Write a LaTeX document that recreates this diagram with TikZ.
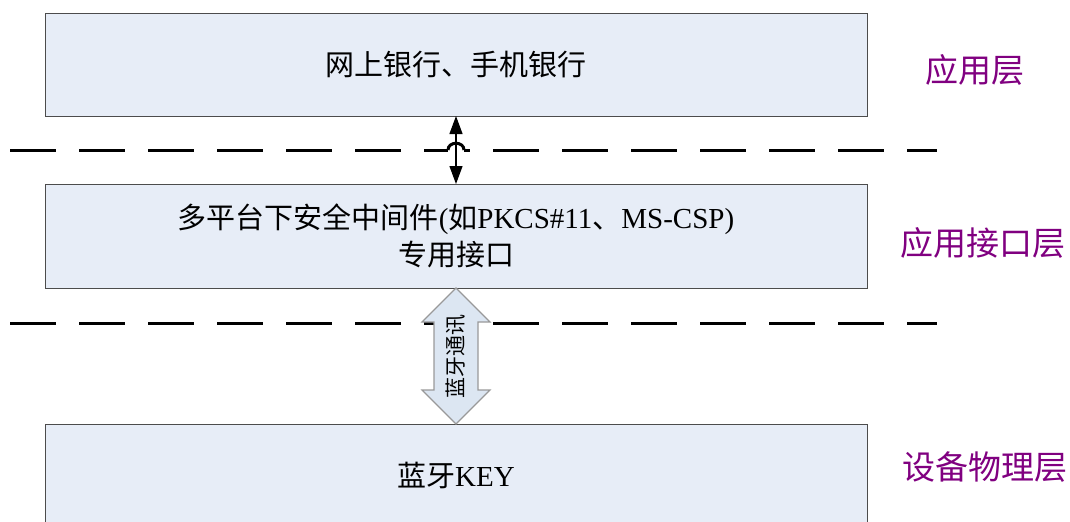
\documentclass[tikz,border=0pt]{standalone}
\usepackage{fontspec}
\setmainfont{Liberation Serif}
\newfontfamily\cjk{Noto Sans CJK SC}
\usetikzlibrary{positioning,calc,arrows.meta}

\definecolor{boxfill}{HTML}{E7EDF7}
\definecolor{linkfill}{HTML}{DCE6F2}
\definecolor{layerpurple}{HTML}{800080}

\tikzset{
  layerbox/.style={draw=gray!60!black, line width=0.5pt, fill=boxfill,
    minimum width=411pt, minimum height=51.5pt, outer sep=0pt, inner sep=0pt,
    align=center, font=\fontsize{14.5}{18.5}\selectfont},
  layerlabel/.style={text=layerpurple, font=\fontsize{16.5}{18}\selectfont\cjk},
  sepline/.style={line width=1.5pt, dash pattern=on 23pt off 11.5pt},
  thinlink/.style={line width=0.6pt, {Triangle[width=6.5pt,length=9pt]}-{Triangle[width=6.5pt,length=9pt]}},
  widelink/.style={draw=gray!80, line width=0.6pt, fill=linkfill}
}

\begin{document}
\begin{tikzpicture}[x=0.5pt,y=-0.5pt]
\useasboundingbox (0,0) rectangle (1070,521);
\clip (0,0) rectangle (1070,521);

    % Draw the three layer boxes
    \node[layerbox] (app) at (456,64.5) {{\cjk 网上银行、手机银行}};
    \node[layerbox, minimum height=52pt, below=34pt of app] (api)
      {{\cjk 多平台下安全中间件}({\cjk 如}PKCS\#11{\cjk 、}MS-CSP)\\{\cjk 专用接口}};
    \node[layerbox, below=68pt of api] (key) {{\cjk 蓝牙}KEY};

    % Draw layer names
    \node[layerlabel] (appname) at (975,70) {应用层};
    \node[layerlabel] (apiname) at (983,243) {应用接口层};
    \node[layerlabel] (keyname) at (985,467) {设备物理层};

    % Draw separating lines
    \draw[sepline] (10,150) -- (937,150);
    \draw[sepline] (10,323) -- (937,323);

    % Hop over the thin arrow
    \draw[white, line width=3pt] (448,150) -- (464,150);
    \draw[line width=1.5pt] (448,150) .. controls (448,141) and (464,141) .. (464,150);
    \draw[thinlink] (app.south) -- (api.north);

    % Draw the wide arrow between api and key
    \draw[widelink] (api.south) -- ($(api.south)+(34,34)$) -- ($(api.south)+(22,34)$)
      -- ($(key.north)+(22,-34)$) -- ($(key.north)+(34,-34)$) -- (key.north)
      -- ($(key.north)+(-34,-34)$) -- ($(key.north)+(-22,-34)$)
      -- ($(api.south)+(-22,34)$) -- ($(api.south)+(-34,34)$) -- cycle;
    \node[rotate=90, font=\fontsize{10.5}{12}\selectfont\cjk] (linktext)
      at ($(api.south)!0.5!(key.north)$) {蓝牙通讯};

\end{tikzpicture}
\end{document}
